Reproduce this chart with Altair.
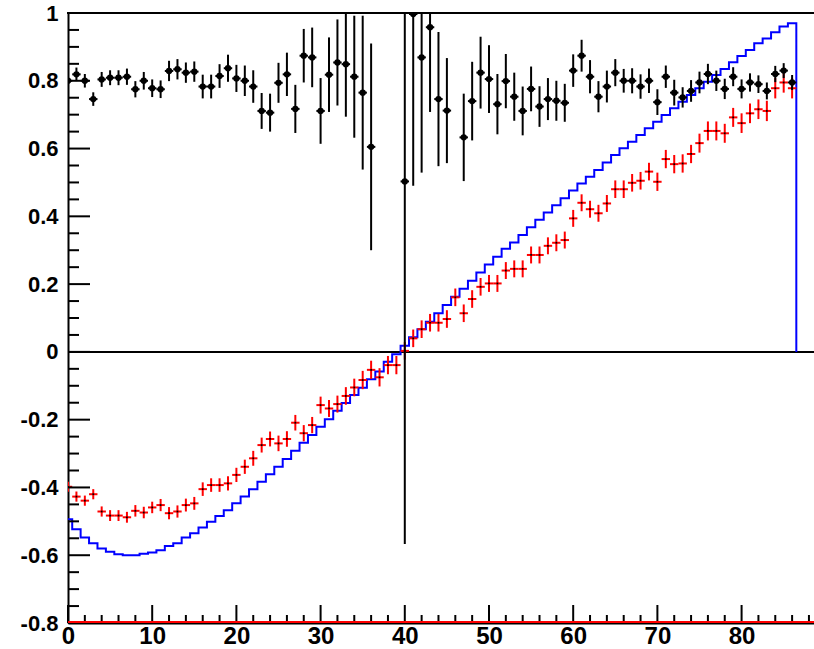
import altair as alt
import pandas as pd
import numpy as np

W, H = 746, 610
XMAX = 88.6

# ---- data ----
black_x = [0, 1, 2, 3, 4, 5, 6, 7, 8, 9, 10, 11, 12, 13, 14, 15, 16, 17, 18, 19,
           20, 21, 22, 23, 24, 25, 26, 27, 28, 29, 30, 31, 32, 33, 34, 35, 36,
           40, 41, 42, 43, 44, 45, 47, 48, 49, 50, 51, 52, 53, 54, 55, 56, 57,
           58, 59, 60, 61, 62, 63, 64, 65, 66, 67, 68, 69, 70, 71, 72, 73, 74,
           75, 76, 77, 78, 79, 80, 81, 82, 83, 84, 85, 86]
black_y = [0.800, 0.819, 0.800, 0.746, 0.804, 0.809, 0.809, 0.812, 0.775, 0.800,
           0.778, 0.775, 0.829, 0.834, 0.824, 0.827, 0.783, 0.783, 0.814, 0.837,
           0.807, 0.800, 0.783, 0.711, 0.706, 0.794, 0.819, 0.717, 0.874, 0.869,
           0.711, 0.818, 0.854, 0.849, 0.812, 0.765, 0.605,
           0.503, 0.997, 0.869, 0.958, 0.746, 0.712, 0.633, 0.740, 0.824, 0.805,
           0.731, 0.799, 0.753, 0.711, 0.776, 0.724, 0.746, 0.741, 0.735, 0.830,
           0.874, 0.812, 0.753, 0.783, 0.824, 0.800, 0.800, 0.783, 0.800, 0.737,
           0.812, 0.765, 0.751, 0.770, 0.795, 0.820, 0.800, 0.776, 0.812, 0.776,
           0.795, 0.790, 0.770, 0.820, 0.830, 0.795]
black_err = [0.020, 0.020, 0.020, 0.020, 0.022, 0.022, 0.022, 0.024, 0.024, 0.026,
             0.026, 0.026, 0.030, 0.030, 0.030, 0.030, 0.035, 0.035, 0.035, 0.040,
             0.040, 0.045, 0.048, 0.053, 0.056, 0.059, 0.064, 0.071, 0.079, 0.088,
             0.097, 0.110, 0.127, 0.155, 0.180, 0.227, 0.305,
             1.070, 0.507, 0.340, 0.250, 0.198, 0.155, 0.129, 0.116, 0.106, 0.100,
             0.089, 0.080, 0.071, 0.072, 0.066, 0.060, 0.062, 0.059, 0.056, 0.048,
             0.047, 0.049, 0.046, 0.047, 0.040, 0.035, 0.037, 0.036, 0.036, 0.038,
             0.033, 0.038, 0.030, 0.032, 0.032, 0.030, 0.030, 0.030, 0.028, 0.028,
             0.027, 0.026, 0.025, 0.024, 0.022, 0.022]

red_y = [-0.398, -0.427, -0.439, -0.420, -0.471, -0.483, -0.483, -0.488, -0.469, -0.474,
         -0.459, -0.452, -0.476, -0.471, -0.452, -0.447, -0.405, -0.393, -0.393, -0.388,
         -0.363, -0.339, -0.314, -0.275, -0.257, -0.270, -0.257, -0.209, -0.240, -0.216,
         -0.157, -0.167, -0.154, -0.130, -0.105, -0.083, -0.053, -0.075, -0.039, -0.039,
         0.003, 0.040, 0.067, 0.086, 0.086, 0.097, 0.161, 0.114, 0.156, 0.192,
         0.202, 0.202, 0.240, 0.245, 0.245, 0.286, 0.286, 0.313, 0.322, 0.330,
         0.394, 0.440, 0.421, 0.409, 0.438, 0.480, 0.480, 0.499, 0.505, 0.532,
         0.502, 0.569, 0.554, 0.556, 0.584, 0.616, 0.652, 0.652, 0.645, 0.692,
         0.675, 0.704, 0.716, 0.711, 0.778, 0.795, 0.778]
red_err = [0.015, 0.015, 0.015, 0.015, 0.015, 0.016, 0.016, 0.016, 0.017, 0.017,
           0.017, 0.018, 0.018, 0.018, 0.019, 0.019, 0.020, 0.020, 0.020, 0.021,
           0.021, 0.021, 0.022, 0.022, 0.022, 0.023, 0.023, 0.023, 0.024, 0.024,
           0.025, 0.025, 0.025, 0.026, 0.026, 0.027, 0.027, 0.027, 0.027, 0.027,
           0.026, 0.026, 0.026, 0.026, 0.026, 0.026, 0.026, 0.026, 0.026, 0.026,
           0.025, 0.025, 0.025, 0.025, 0.025, 0.025, 0.025, 0.025, 0.025, 0.025,
           0.025, 0.025, 0.025, 0.025, 0.025, 0.026, 0.026, 0.026, 0.026, 0.026,
           0.027, 0.027, 0.027, 0.027, 0.027, 0.028, 0.028, 0.028, 0.028, 0.028,
           0.029, 0.029, 0.029, 0.030, 0.030, 0.030, 0.030]

blue_y = [-0.494, -0.523, -0.548, -0.565, -0.580, -0.590, -0.597, -0.600, -0.600, -0.596,
          -0.592, -0.585, -0.573, -0.565, -0.548, -0.535, -0.518, -0.501, -0.484, -0.467,
          -0.447, -0.427, -0.405, -0.383, -0.361, -0.339, -0.316, -0.292, -0.268, -0.245,
          -0.221, -0.199, -0.174, -0.151, -0.127, -0.106, -0.081, -0.058, -0.029, -0.007,
          0.018, 0.043, 0.067, 0.089, 0.114, 0.138, 0.163, 0.186, 0.210, 0.234,
          0.258, 0.281, 0.304, 0.323, 0.345, 0.368, 0.390, 0.411, 0.433, 0.453,
          0.476, 0.497, 0.517, 0.537, 0.559, 0.581, 0.601, 0.620, 0.640, 0.660,
          0.679, 0.699, 0.719, 0.738, 0.758, 0.778, 0.797, 0.817, 0.835, 0.855,
          0.873, 0.891, 0.911, 0.925, 0.943, 0.960, 0.970]

y_label_values = [-0.8, -0.6, -0.4, -0.2, 0, 0.2, 0.4, 0.6, 0.8, 1]
x_label_values = [0, 10, 20, 30, 40, 50, 60, 70, 80]

# ---- tables ----
bdf = pd.DataFrame({"x": black_x, "y": black_y, "e": black_err})
bdf["lo"] = bdf["y"] - bdf["e"]
bdf["hi"] = bdf["y"] + bdf["e"]
bdf["xl"] = bdf["x"] - 0.5
bdf["xr"] = bdf["x"] + 0.5

rdf = pd.DataFrame({"x": list(range(len(red_y))), "y": red_y, "e": red_err})
rdf["lo"] = rdf["y"] - rdf["e"]
rdf["hi"] = rdf["y"] + rdf["e"]
rdf["xl"] = rdf["x"] - 0.5
rdf["xr"] = rdf["x"] + 0.5

sx, sy = [], []
for i, v in enumerate(blue_y):
    sx += [i - 0.5, i + 0.5]
    sy += [v, v]
sx.append(len(blue_y) - 0.5)
sy.append(0.0)
hdf = pd.DataFrame({"x": sx, "y": sy, "o": list(range(len(sx)))})

ymaj = pd.DataFrame({"v": y_label_values})
ymin = pd.DataFrame({"v": [round(v, 2) for v in np.arange(-0.8, 1.001, 0.05)
                            if abs(round(v / 0.2) * 0.2 - v) > 1e-6]})
xmaj = pd.DataFrame({"v": x_label_values})
xmin = pd.DataFrame({"v": [v for v in range(0, 89, 2) if v % 10 != 0]})
zdf = pd.DataFrame({"z": [0.0]})
one = pd.DataFrame({"a": [0]})

xs = alt.Scale(domain=[0, XMAX], nice=False, zero=False)
ys = alt.Scale(domain=[-0.8, 1.0], nice=False, zero=False)

FONT = "Liberation Sans"
x_axis = alt.Axis(values=x_label_values, ticks=False, grid=False, domainColor="black",
                  domainWidth=2, labelFont=FONT, labelFontWeight="bold", labelFontSize=24,
                  labelColor="black", labelPadding=1, labelFlush=False, labelOverlap=False,
                  labelExpr="'' + datum.value", title=None)
y_axis = alt.Axis(values=y_label_values, ticks=False, grid=False, domainColor="black",
                  domainWidth=2, labelFont=FONT, labelFontWeight="bold", labelFontSize=22,
                  labelColor="black", labelPadding=10, labelFlush=False, labelOverlap=False,
                  labelExpr="'' + datum.value", title=None)


def X(f):
    return alt.X(f, type="quantitative", scale=xs, axis=x_axis)


def Y(f):
    return alt.Y(f, type="quantitative", scale=ys, axis=y_axis)


zero_line = alt.Chart(zdf).mark_rule(color="black", strokeWidth=2).encode(
    x=alt.value(0), x2=alt.value(W), y=Y("z"))

blue = alt.Chart(hdf).mark_line(color="#0000ff", strokeWidth=2, clip=True).encode(
    x=X("x"), y=Y("y"), order=alt.Order("o:Q"))

red_v = alt.Chart(rdf).mark_rule(color="#ff0000", strokeWidth=2, clip=True).encode(
    x=X("x"), y=Y("lo"), y2="hi")
red_h = alt.Chart(rdf).mark_rule(color="#ff0000", strokeWidth=2, clip=True).encode(
    x=X("xl"), x2="xr", y=Y("y"))
red_c = alt.Chart(rdf).mark_square(color="black", size=3, opacity=1, clip=True).encode(
    x=X("x"), y=Y("y"))

blk_v = alt.Chart(bdf).mark_rule(color="black", strokeWidth=2, clip=True).encode(
    x=X("x"), y=Y("lo"), y2="hi")
blk_h = alt.Chart(bdf).mark_rule(color="black", strokeWidth=2, clip=True).encode(
    x=X("xl"), x2="xr", y=Y("y"))
blk_p = alt.Chart(bdf).mark_circle(color="black", size=40, opacity=1, clip=True).encode(
    x=X("x"), y=Y("y"))

ytick_major = alt.Chart(ymaj).mark_rule(color="black", strokeWidth=2).encode(
    x=alt.value(0), x2=alt.value(22), y=Y("v"))
ytick_minor = alt.Chart(ymin).mark_rule(color="black", strokeWidth=2).encode(
    x=alt.value(0), x2=alt.value(11), y=Y("v"))
xtick_major = alt.Chart(xmaj).mark_rule(color="black", strokeWidth=2).encode(
    x=X("v"), y=alt.value(H), y2=alt.value(H - 18))
xtick_minor = alt.Chart(xmin).mark_rule(color="black", strokeWidth=2).encode(
    x=X("v"), y=alt.value(H), y2=alt.value(H - 8))

top_frame = alt.Chart(one).mark_rule(color="black", strokeWidth=2).encode(
    x=alt.value(-1), x2=alt.value(W), y=alt.value(0))
red_bottom = alt.Chart(one).mark_rule(color="#ff0000", strokeWidth=2).encode(
    x=alt.value(0), x2=alt.value(W), y=alt.value(H - 1))

chart = alt.layer(
    zero_line, blue, red_v, red_h, red_c, blk_v, blk_h, blk_p,
    ytick_major, ytick_minor, xtick_major, xtick_minor, top_frame, red_bottom
).properties(
    width=W, height=H,
    autosize=alt.AutoSizeParams(type="none"),
    padding={"left": 68, "top": 13, "right": 0, "bottom": 26},
    background="white",
).configure_view(strokeWidth=0)

chart.save("out.html", embed_options={"renderer": "svg", "actions": False})
